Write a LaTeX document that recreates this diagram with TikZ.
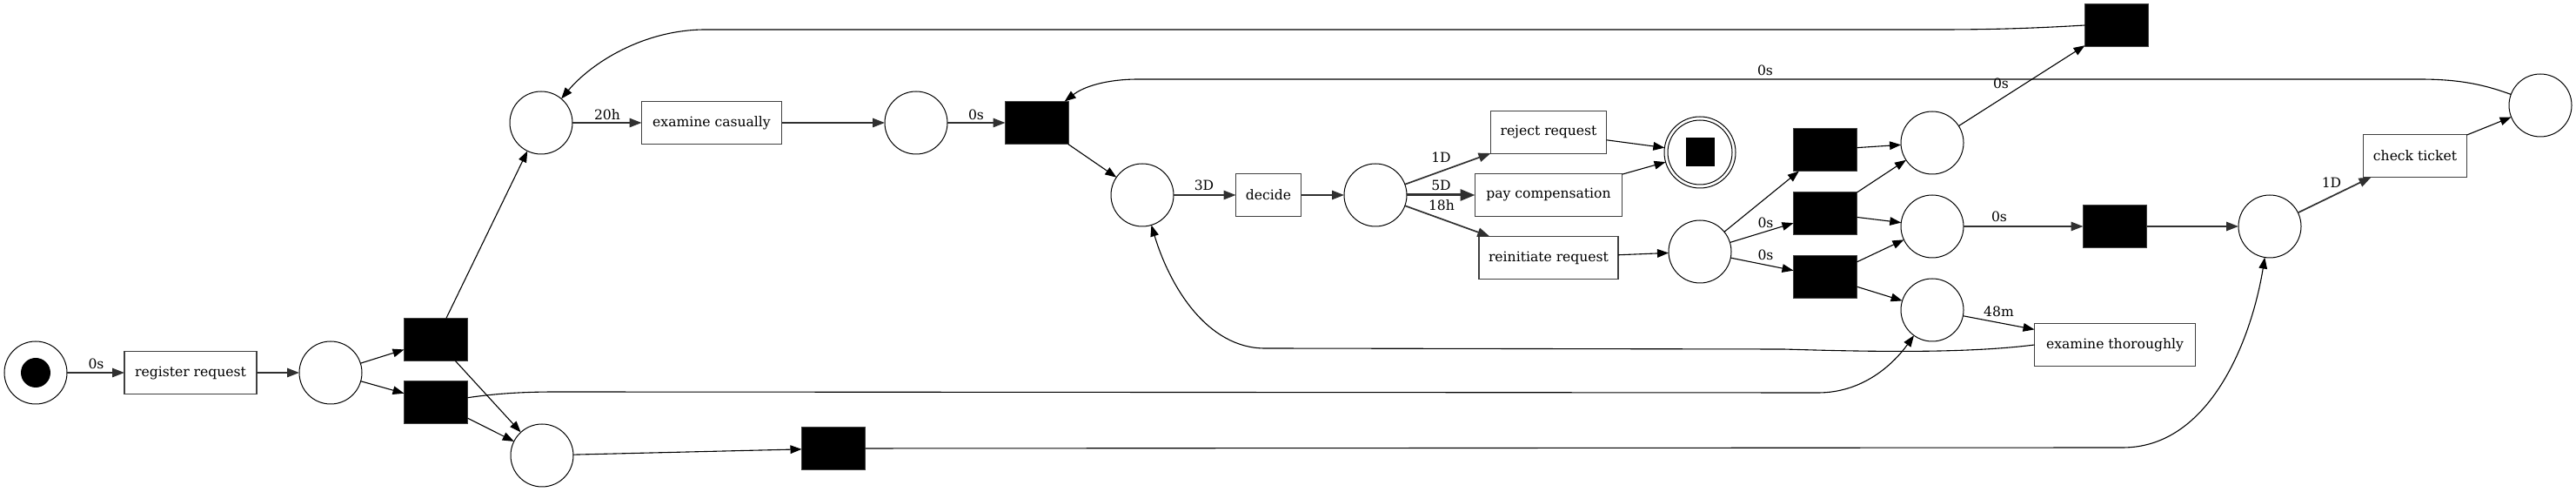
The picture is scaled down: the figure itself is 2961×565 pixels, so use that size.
\documentclass[tikz,border=0pt]{standalone}
\usepackage{fontspec}
\setmainfont{DejaVu Serif}
\usetikzlibrary{arrows.meta}
\definecolor{boxgray}{HTML}{404040}
\definecolor{edgegray}{HTML}{303030}
\begin{document}
\begin{tikzpicture}[x=0.5pt,y=-0.5pt,
  font=\fontsize{7.8}{9}\selectfont,
  plc/.style={circle, draw=black, line width=0.5pt, minimum size=36pt, inner sep=0pt, outer sep=0pt},
  trn/.style={rectangle, draw=boxgray, fill=black, line width=0.6pt, minimum width=36.5pt, minimum height=24.5pt, inner sep=0pt, outer sep=0pt},
  actbox/.style={rectangle, draw=boxgray, fill=white, line width=0.6pt, minimum height=24.5pt, inner sep=0pt, outer sep=0pt},
  edgeA/.style={draw=black, line width=0.55pt, -{Triangle[length=6.5pt,width=4.8pt]}},
  edgeB/.style={draw=edgegray, line width=0.85pt, -{Triangle[length=7pt,width=5.2pt]}},
  edgeC/.style={draw=edgegray, line width=1.5pt, -{Triangle[length=8.5pt,width=6.5pt]}},
  elabel/.style={inner sep=0pt}
]
\useasboundingbox (0,0) rectangle (2961,565);

% places
\node[plc] (S) at (41,428) {};
\node[circle, fill=black, minimum size=17pt, inner sep=0pt] (tokS) at (S) {};
\node[plc] (P1) at (380,428) {};
\node[plc] (PL) at (623,523) {};
\node[plc] (PT) at (622,141) {};
\node[plc] (P2) at (1053,141) {};
\node[plc] (P3) at (1313,224) {};
\node[plc] (P4) at (1581,224) {};
\node[plc, minimum size=41pt] (END) at (1954,175) {};
\draw[line width=0.5pt] (END.center) circle (18.5pt);
\node[rectangle, fill=black, minimum size=16.5pt, inner sep=0pt] (tokE) at (END) {};
\node[plc] (P5) at (1954,289) {};
\node[plc] (PU) at (2221,164) {};
\node[plc] (PM) at (2221,260) {};
\node[plc] (PLo) at (2221,356) {};
\node[plc] (P6) at (2609,260) {};
\node[plc] (PR) at (2920,121) {};

% transitions (silent)
\node[trn] (TA) at (501,390) {};
\node[trn] (TB) at (501,462) {};
\node[trn] (TC) at (958,515) {};
\node[trn] (TD) at (1192,141) {};
\node[trn] (TE) at (2098,172) {};
\node[trn] (TF) at (2098,245) {};
\node[trn] (TG) at (2098,318) {};
\node[trn] (TH) at (2433,29) {};
\node[trn] (TI) at (2431,260) {};

% activities
\node[actbox, minimum width=76pt] (RR) at (219,428) {register request};
\node[actbox, minimum width=80.5pt] (EC) at (818,141) {examine casually};
\node[actbox, minimum width=37.5pt] (DE) at (1458,224) {decide};
\node[actbox, minimum width=66.5pt] (RJ) at (1780,152) {reject request};
\node[actbox, minimum width=84.5pt] (PC) at (1780,224) {pay compensation};
\node[actbox, minimum width=80pt] (RI) at (1780,296) {reinitiate request};
\node[actbox, minimum width=92.5pt] (ET) at (2431,396) {examine thoroughly};
\node[actbox, minimum width=59.5pt] (CT) at (2776,179) {check ticket};

% edges
\draw[edgeB] (S) -- (RR);
\draw[edgeB] (RR) -- (P1);
\draw[edgeA] (P1) -- (TA);
\draw[edgeA] (P1) -- (TB);
\draw[edgeA] (TA) -- (PT);
\draw[edgeA] (TA) -- (PL);
\draw[edgeA] (TB) -- (PL);
\draw[edgeA] (TB) .. controls (570,452) and (600,450) .. (640,450) -- (2090,451) .. controls (2140,451) and (2175,420) .. (PLo);
\draw[edgeA] (PL) -- (TC);
\draw[edgeA] (TC) -- (2440,514) .. controls (2540,514) and (2588,390) .. (P6);
\draw[edgeB] (PT) -- (EC);
\draw[edgeB] (EC) -- (P2);
\draw[edgeB] (P2) -- (TD);
\draw[edgeA] (TD) -- (P3);
\draw[edgeB] (P3) -- (DE);
\draw[edgeB] (DE) -- (P4);
\draw[edgeB] (P4) -- (RJ);
\draw[edgeC] (P4) -- (PC);
\draw[edgeB] (P4) -- (RI);
\draw[edgeA] (RJ) -- (END);
\draw[edgeA] (PC) -- (END);
\draw[edgeA] (RI) -- (P5);
\draw[edgeA] (P5) -- (TE);
\draw[edgeA] (P5) -- (TF);
\draw[edgeA] (P5) -- (TG);
\draw[edgeA] (TE) -- (PU);
\draw[edgeA] (TF) -- (PU);
\draw[edgeA] (TF) -- (PM);
\draw[edgeA] (TG) -- (PM);
\draw[edgeA] (TG) -- (PLo);
\draw[edgeA] (PU) -- (TH);
\draw[edgeA] (TH.west) .. controls (2330,33) and (2280,34) .. (2230,34) -- (811,34) .. controls (740,34) and (680,72) .. (PT);
\draw[edgeB] (PM) -- (TI);
\draw[edgeB] (TI) -- (P6);
\draw[edgeA] (PLo) -- (ET);
\draw[edgeA] (ET.west) .. controls (2260,406) and (2150,404) .. (2050,401) -- (1454,400) .. controls (1388,400) and (1345,330) .. (P3);
\draw[edgeB] (P6) -- (CT);
\draw[edgeA] (CT) -- (PR);
\draw[edgeA] (PR) .. controls (2850,95) and (2820,91) .. (2780,91) -- (1309,91) .. controls (1270,91) and (1245,100) .. (TD);

% labels
\node[elabel] (l1) at (110.5,417.5) {0s};
\node[elabel] (l2) at (698,131.5) {20h};
\node[elabel] (l3) at (1122,131.5) {0s};
\node[elabel] (l4) at (1384,213) {3D};
\node[elabel] (l5) at (1656.5,180.5) {1D};
\node[elabel] (l6) at (1656.5,213) {5D};
\node[elabel] (l7) at (1657,236) {18h};
\node[elabel] (l8) at (2029.5,256) {0s};
\node[elabel] (l9) at (2029.5,293) {0s};
\node[elabel] (l10) at (2029,80.5) {0s};
\node[elabel] (l11) at (2300,96) {0s};
\node[elabel] (l12) at (2298,249) {0s};
\node[elabel] (l13) at (2297.5,358) {48m};
\node[elabel] (l14) at (2680,209.5) {1D};
\end{tikzpicture}
\end{document}
